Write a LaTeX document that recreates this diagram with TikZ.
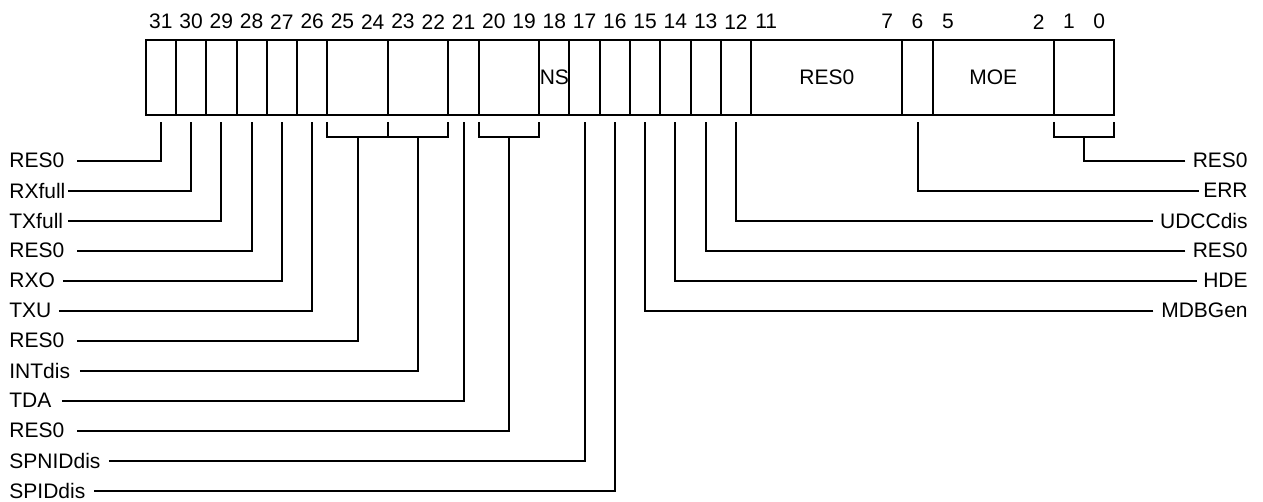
\documentclass[tikz,border=0pt]{standalone}
\usepackage{fontspec}
\setmainfont{Liberation Sans}
\usetikzlibrary{positioning}
\begin{document}
\begin{tikzpicture}[x=0.5pt, y=-0.5pt,
            field/.style={draw=black, line width=1pt, minimum height=37.65pt, outer sep=0pt, anchor=west},
            lbl/.style={font=\fontsize{10.5}{12}\selectfont},
            wire/.style={black, line width=1pt}]
            \tikzstyle{every node}+=[inner sep=0pt]
            \useasboundingbox (0,0) rectangle (1263,502);
            \node [field, minimum width=15.135pt] (f31) at (145.7,77.65) {};
            \node [field, minimum width=15.135pt, right=0pt of f31] (f30) {};
            \node [field, minimum width=15.135pt, right=0pt of f30] (f29) {};
            \node [field, minimum width=15.135pt, right=0pt of f29] (f28) {};
            \node [field, minimum width=15.135pt, right=0pt of f28] (f27) {};
            \node [field, minimum width=15.135pt, right=0pt of f27] (f26) {};
            \node [field, minimum width=30.27pt, right=0pt of f26] (f25) {};
            \node [field, minimum width=30.27pt, right=0pt of f25] (f23) {};
            \node [field, minimum width=15.135pt, right=0pt of f23] (f21) {};
            \node [field, minimum width=30.27pt, right=0pt of f21] (f20) {};
            \node [field, lbl, minimum width=15.135pt, right=0pt of f20] (f18) {NS};
            \node [field, minimum width=15.135pt, right=0pt of f18] (f17) {};
            \node [field, minimum width=15.135pt, right=0pt of f17] (f16) {};
            \node [field, minimum width=15.135pt, right=0pt of f16] (f15) {};
            \node [field, minimum width=15.135pt, right=0pt of f15] (f14) {};
            \node [field, minimum width=15.135pt, right=0pt of f14] (f13) {};
            \node [field, minimum width=15.135pt, right=0pt of f13] (f12) {};
            \node [field, lbl, minimum width=75.675pt, right=0pt of f12] (f11) {RES0};
            \node [field, minimum width=15.135pt, right=0pt of f11] (f6) {};
            \node [field, lbl, minimum width=60.54pt, right=0pt of f6] (f5) {MOE};
            \node [field, minimum width=30.27pt, right=0pt of f5] (f1) {};
            \node [lbl] (n31) at (160.84,21.7) {31};
            \node [lbl] (n30) at (191.10,21.7) {30};
            \node [lbl] (n29) at (221.37,21.7) {29};
            \node [lbl] (n28) at (251.64,21.7) {28};
            \node [lbl] (n27) at (281.91,21.7) {27};
            \node [lbl] (n26) at (312.18,21.7) {26};
            \node [lbl] (n25) at (342.45,21.7) {25};
            \node [lbl] (n24) at (372.72,21.7) {24};
            \node [lbl] (n23) at (402.99,21.7) {23};
            \node [lbl] (n22) at (433.25,21.7) {22};
            \node [lbl] (n21) at (463.52,21.7) {21};
            \node [lbl] (n20) at (493.79,21.7) {20};
            \node [lbl] (n19) at (524.06,21.7) {19};
            \node [lbl] (n18) at (554.33,21.7) {18};
            \node [lbl] (n17) at (584.60,21.7) {17};
            \node [lbl] (n16) at (614.87,21.7) {16};
            \node [lbl] (n15) at (645.14,21.7) {15};
            \node [lbl] (n14) at (675.41,21.7) {14};
            \node [lbl] (n13) at (705.68,21.7) {13};
            \node [lbl] (n12) at (735.94,21.7) {12};
            \node [lbl] (n11) at (766.21,21.7) {11};
            \node [lbl] (n7) at (887.29,21.7) {7};
            \node [lbl] (n6) at (917.56,21.7) {6};
            \node [lbl] (n5) at (947.83,21.7) {5};
            \node [lbl] (n2) at (1038.63,21.7) {2};
            \node [lbl] (n1) at (1068.90,21.7) {1};
            \node [lbl] (n0) at (1099.17,21.7) {0};
            \coordinate (t31) at ([yshift=-3.35pt]f31.south);
            \coordinate (t30) at ([yshift=-3.35pt]f30.south);
            \coordinate (t29) at ([yshift=-3.35pt]f29.south);
            \coordinate (t28) at ([yshift=-3.35pt]f28.south);
            \coordinate (t27) at ([yshift=-3.35pt]f27.south);
            \coordinate (t26) at ([yshift=-3.35pt]f26.south);
            \coordinate (t21) at ([yshift=-3.35pt]f21.south);
            \coordinate (t17) at ([yshift=-3.35pt]f17.south);
            \coordinate (t16) at ([yshift=-3.35pt]f16.south);
            \coordinate (t15) at ([yshift=-3.35pt]f15.south);
            \coordinate (t14) at ([yshift=-3.35pt]f14.south);
            \coordinate (t13) at ([yshift=-3.35pt]f13.south);
            \coordinate (t12) at ([yshift=-3.35pt]f12.south);
            \coordinate (t6) at ([yshift=-3.35pt]f6.south);
            \coordinate (b25) at ([yshift=-11pt]f25.south);
            \coordinate (b23) at ([yshift=-11pt]f23.south);
            \coordinate (b20) at ([yshift=-11pt]f20.south);
            \coordinate (b1) at ([yshift=-11pt]f1.south);
            \draw [wire] ([yshift=-3.35pt]f25.south west) |- (b25) -| ([yshift=-3.35pt]f25.south east);
            \draw [wire] ([yshift=-3.35pt]f23.south west) |- (b23) -| ([yshift=-3.35pt]f23.south east);
            \draw [wire] ([yshift=-3.35pt]f20.south west) |- (b20) -| ([yshift=-3.35pt]f20.south east);
            \draw [wire] ([yshift=-3.35pt]f1.south west) |- (b1) -| ([yshift=-3.35pt]f1.south east);
            \node [lbl, anchor=west] (l1) at (9,160.7) {RES0};
            \node [lbl, anchor=west] (l2) at (9,190.7) {RXfull};
            \node [lbl, anchor=west] (l3) at (9,220.7) {TXfull};
            \node [lbl, anchor=west] (l4) at (9,250.7) {RES0};
            \node [lbl, anchor=west] (l5) at (9,280.7) {RXO};
            \node [lbl, anchor=west] (l6) at (9,310.7) {TXU};
            \node [lbl, anchor=west] (l7) at (9,340.7) {RES0};
            \node [lbl, anchor=west] (l8) at (9,370.7) {INTdis};
            \node [lbl, anchor=west] (l9) at (9,400.7) {TDA};
            \node [lbl, anchor=west] (l10) at (9,430.7) {RES0};
            \node [lbl, anchor=west] (l11) at (9,460.7) {SPNIDdis};
            \node [lbl, anchor=west] (l12) at (9,490.7) {SPIDdis};
            \node [lbl, anchor=east] (r1) at (1248,160.7) {RES0};
            \node [lbl, anchor=east] (r2) at (1248,190.7) {ERR};
            \node [lbl, anchor=east] (r3) at (1248,220.7) {UDCCdis};
            \node [lbl, anchor=east] (r4) at (1248,250.7) {RES0};
            \node [lbl, anchor=east] (r5) at (1248,280.7) {HDE};
            \node [lbl, anchor=east] (r6) at (1248,310.7) {MDBGen};
            \draw [wire] (l1.east) ++(12.5,0) -| (t31);
            \draw [wire] (l2.east) ++(2.5,0) -| (t30);
            \draw [wire] (l3.east) ++(5,0) -| (t29);
            \draw [wire] (l4.east) ++(12.5,0) -| (t28);
            \draw [wire] (l5.east) ++(7.5,0) -| (t27);
            \draw [wire] (l6.east) ++(7,0) -| (t26);
            \draw [wire] (l7.east) ++(12.5,0) -| (b25);
            \draw [wire] (l8.east) ++(9.3,0) -| (b23);
            \draw [wire] (l9.east) ++(10,0) -| (t21);
            \draw [wire] (l10.east) ++(12.5,0) -| (b20);
            \draw [wire] (l11.east) ++(8,0) -| (t17);
            \draw [wire] (l12.east) ++(8.7,0) -| (t16);
            \draw [wire] (r1.west) ++(-7,0) -| (b1);
            \draw [wire] (r2.west) ++(-4,0) -| (t6);
            \draw [wire] (r3.west) ++(-7,0) -| (t12);
            \draw [wire] (r4.west) ++(-7,0) -| (t13);
            \draw [wire] (r5.west) ++(-6,0) -| (t14);
            \draw [wire] (r6.west) ++(-7.5,0) -| (t15);
        \end{tikzpicture}
\end{document}
